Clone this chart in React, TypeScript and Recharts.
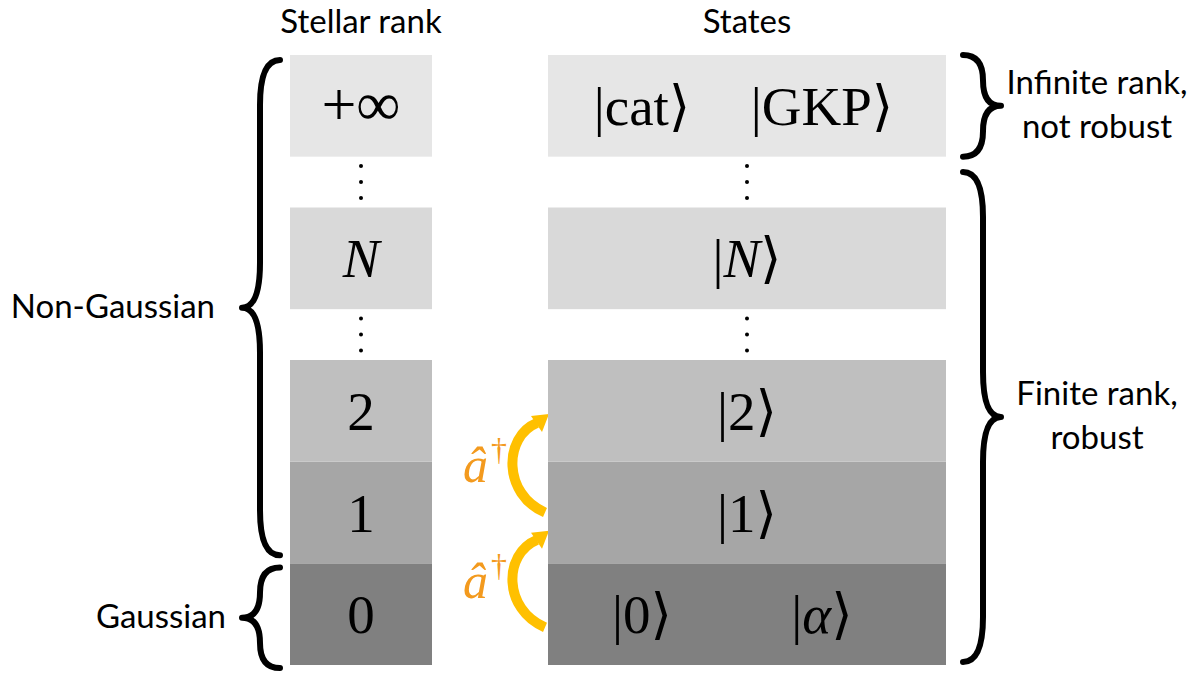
import { Bar, BarChart, ReferenceArea, XAxis, YAxis } from 'recharts'

// columns of the ladder
const columns = ['Stellar rank', 'States']

// levels from the bottom (Gaussian) to the top (infinite rank); gaps hold the vertical dots
const levelKeys = ['r0', 'r1', 'r2', 'gapLow', 'rN', 'gapHigh', 'rInf']
const levelSpans = [1, 1, 1, 0.5, 1, 0.5, 1]
const rankLabels = ['0', '1', '2', '', 'N', '', '+∞']
const stateKets = [['0', 'α'], ['1'], ['2'], [], ['N'], [], ['cat', 'GKP']]

// braces on both sides, in level units
const groupLabels = [['Non-Gaussian'], ['Gaussian'], ['Infinite rank,', 'not robust'], ['Finite rank,', 'robust']]
const groupSides = ['left', 'left', 'right', 'right']
const groupFrom = [1.08, -0.03, 5.0, 0.03]
const groupTo = [5.95, 0.96, 6.0, 4.85]

// creation operator steps between levels
const stepFrom = [0.37, 1.5]
const stepTo = [1.31, 2.46]

const LEVEL_FILLS = ['#808080', '#a6a6a6', '#bfbfbf', 'none', '#d9d9d9', 'none', '#e6e6e6']
const COLUMN_WIDTHS = [142, 398]
const LABEL_GAPS = [45, 34, 114, 114]
const MATH_FONT = '"Liberation Serif", "DejaVu Serif", serif'
const TEXT_FONT = 'Lato, "Open Sans", sans-serif'
const ARROW_GOLD = '#ffc000'
const OP_ORANGE = '#f39a1e'

const data = columns.map((col) => {
  const row: Record<string, string | number> = { col }
  levelKeys.forEach((k, i) => {
    row[k] = levelSpans[i]
  })
  return row
})

const isMathItalic = (s: string) => s.length === 1 && /[A-Za-zα-ω]/.test(s)

function Ket({ x, y, content }: { x: number; y: number; content: string }) {
  return (
    <text x={x} y={y} textAnchor="middle" fontFamily={MATH_FONT} fontSize={55} fill="#000">
      <tspan>|</tspan>
      <tspan fontStyle={isMathItalic(content) ? 'italic' : 'normal'}>{content}</tspan>
      <tspan>⟩</tspan>
    </text>
  )
}

function LevelCell(props: any) {
  const { x, y, width, height, index, level } = props
  const cx = x + width / 2
  const cy = y + height / 2
  const fill = LEVEL_FILLS[level]
  if (fill === 'none') {
    return (
      <g>
        {[-16, 0, 16].map((d) => (
          <circle key={d} cx={cx} cy={cy + d} r={2} fill="#000" />
        ))}
      </g>
    )
  }
  const w = COLUMN_WIDTHS[index]
  const baseline = cy + 19
  let content = null
  if (index === 0) {
    const label = rankLabels[level]
    content = (
      <text
        x={cx}
        y={baseline}
        textAnchor="middle"
        fontFamily={MATH_FONT}
        fontSize={label === '+∞' ? 62 : 55}
        fontStyle={isMathItalic(label) ? 'italic' : 'normal'}
        fill="#000"
      >
        {label}
      </text>
    )
  } else {
    const kets = stateKets[level]
    const offsets = kets.length === 2 ? [-105, 75] : [0]
    content = (
      <g>
        {kets.map((k, i) => (
          <Ket key={k} x={cx + offsets[i]} y={baseline} content={k} />
        ))}
      </g>
    )
  }
  return (
    <g>
      <rect x={cx - w / 2} y={y} width={w} height={height} fill={fill} />
      {content}
    </g>
  )
}

function bracePath(spine: number, top: number, bottom: number, dir: number) {
  const h = bottom - top
  const r = Math.min(45, h / 4)
  const mid = (top + bottom) / 2
  const tip = spine + dir * 18
  const end = spine - dir * 20
  return (
    `M${end},${top} Q${spine},${top} ${spine},${top + r} ` +
    `L${spine},${mid - r} Q${spine},${mid} ${tip},${mid} ` +
    `Q${spine},${mid} ${spine},${mid + r} L${spine},${bottom - r} ` +
    `Q${spine},${bottom} ${end},${bottom}`
  )
}

function GroupBrace(props: any) {
  const { x, y, width, height, group } = props
  const left = groupSides[group] === 'left'
  const spine = left ? x + width / 4 - 101 : x + (3 * width) / 4 + 236
  const dir = left ? -1 : 1
  const mid = y + height / 2
  const lines = groupLabels[group]
  const tx = left ? spine - LABEL_GAPS[group] : spine + LABEL_GAPS[group]
  const first = mid + 10 - ((lines.length - 1) * 44) / 2
  return (
    <g>
      <path
        d={bracePath(spine, y, y + height, dir)}
        fill="none"
        stroke="#000"
        strokeWidth={6}
        strokeLinecap="round"
        strokeLinejoin="round"
      />
      <text
        x={tx}
        textAnchor={left ? 'end' : 'middle'}
        fontFamily={TEXT_FONT}
        fontSize={33}
        fill="#000"
      >
        {lines.map((l, i) => (
          <tspan key={l} x={tx} y={first + i * 44}>
            {l}
          </tspan>
        ))}
      </text>
    </g>
  )
}

function CreationStep(props: any) {
  const { x, y, width, height } = props
  const x0 = x + (3 * width) / 4 - COLUMN_WIDTHS[1] / 2 - 3
  const yt = y
  const yb = y + height
  const mid = (yt + yb) / 2
  return (
    <g>
      <path
        d={`M${x0},${yb} C${x0 - 42},${yb - 18} ${x0 - 42},${yt + 22} ${x0 - 8},${yt + 8}`}
        fill="none"
        stroke={ARROW_GOLD}
        strokeWidth={10}
      />
      <polygon
        points={`${x0 + 4},${yt - 1} ${x0 - 14},${yt + 1} ${x0 - 3},${yt + 17}`}
        fill={ARROW_GOLD}
      />
      <text x={x0 - 82} y={mid + 18} fontFamily={MATH_FONT} fontSize={50} fill={OP_ORANGE}>
        <tspan fontStyle="italic">â</tspan>
        <tspan fontSize={32} dx={3} dy={-22}>
          †
        </tspan>
      </text>
    </g>
  )
}

function ColumnTick(props: any) {
  const { x, payload } = props
  return (
    <text x={x} y={33} textAnchor="middle" fontFamily={TEXT_FONT} fontSize={33} fill="#000">
      {payload.value}
    </text>
  )
}

export default function App() {
  return (
    <div style={{ position: 'absolute', left: 0, top: 0, width: 1200, height: 673, background: '#fff' }}>
      <BarChart
        width={1200}
        height={673}
        data={data}
        margin={{ top: 0, right: 260, bottom: 8, left: 168 }}
        barCategoryGap={0}
      >
        <XAxis
          dataKey="col"
          orientation="top"
          height={55}
          axisLine={false}
          tickLine={false}
          interval={0}
          tick={ColumnTick}
        />
        <YAxis type="number" domain={[0, 6]} hide allowDataOverflow />
        {levelKeys.map((k, i) => (
          <Bar
            key={k}
            dataKey={k}
            stackId="ladder"
            isAnimationActive={false}
            shape={(p: any) => <LevelCell {...p} level={i} />}
          />
        ))}
        {groupLabels.map((_, g) => (
          <ReferenceArea
            key={`group-${g}`}
            y1={groupFrom[g]}
            y2={groupTo[g]}
            ifOverflow="visible"
            shape={(p: any) => <GroupBrace {...p} group={g} />}
          />
        ))}
        {stepFrom.map((_, s) => (
          <ReferenceArea
            key={`step-${s}`}
            y1={stepFrom[s]}
            y2={stepTo[s]}
            ifOverflow="visible"
            shape={(p: any) => <CreationStep {...p} />}
          />
        ))}
      </BarChart>
    </div>
  )
}
